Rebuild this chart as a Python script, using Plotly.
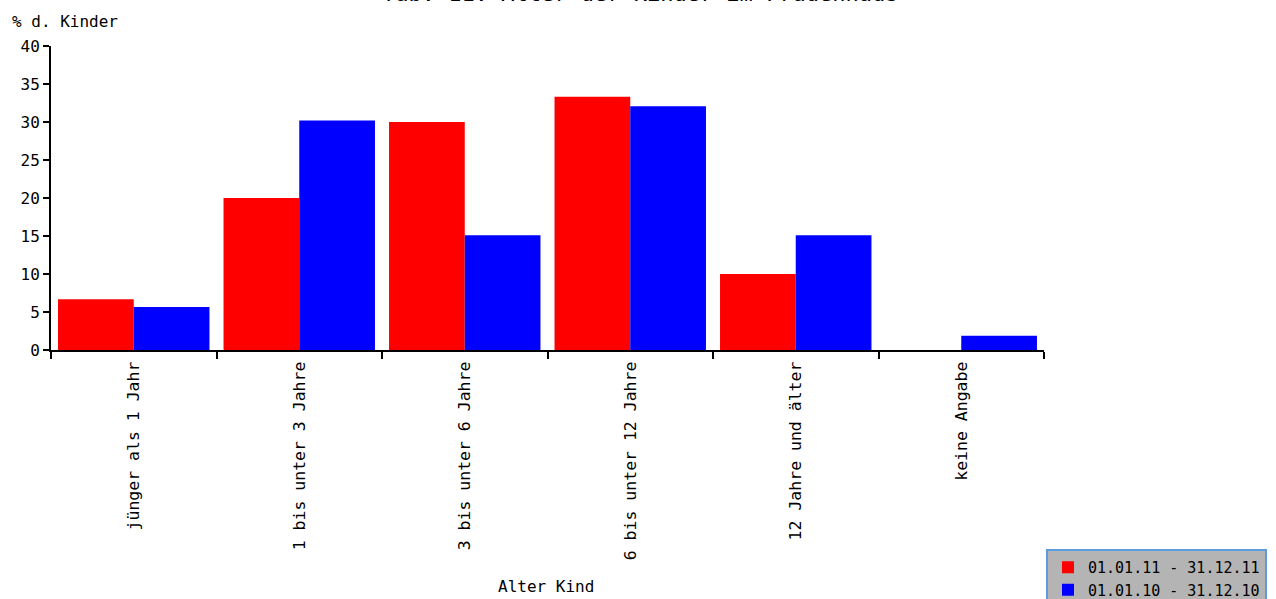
import plotly.graph_objects as go

categories = ["jünger als 1 Jahr", "1 bis unter 3 Jahre", "3 bis unter 6 Jahre",
              "6 bis unter 12 Jahre", "12 Jahre und älter", "keine Angabe"]
series_2011 = [6.67, 20.0, 30.0, 33.33, 10.0, 0.0]
series_2010 = [5.66, 30.19, 15.09, 32.08, 15.09, 1.89]
name_2011 = "01.01.11 - 31.12.11"
name_2010 = "01.01.10 - 31.12.10"
y_ticks = [0, 5, 10, 15, 20, 25, 30, 35, 40]
title_text = "Tab. 11: Alter der Kinder im Frauenhaus"

FONT = "DejaVu Sans Mono"

fig = go.Figure()
fig.add_trace(go.Bar(x=categories, y=series_2011, name=name_2011,
                     marker=dict(color="#ff0000", line=dict(width=0))))
fig.add_trace(go.Bar(x=categories, y=series_2010, name=name_2010,
                     marker=dict(color="#0000ff", line=dict(width=0))))

fig.update_layout(
    width=1276, height=599,
    margin=dict(l=51, r=232, t=46, b=249, pad=0, autoexpand=False),
    paper_bgcolor="white", plot_bgcolor="white",
    barmode="group", bargap=0.085, bargroupgap=0,
    font=dict(family=FONT, size=16, color="black"),
    showlegend=True,
    legend=dict(x=(1046 - 51) / 993, xanchor="left", y=(350 - 549) / 304, yanchor="top",
                bgcolor="#b4b4b4", bordercolor="#5b9be0", borderwidth=2,
                font=dict(family=FONT, size=15, color="black"),
                itemwidth=30, tracegroupgap=0),
    xaxis=dict(type="category", showline=True, linecolor="black", linewidth=2,
               ticks="outside", tickson="boundaries", ticklen=7, tickwidth=2,
               tickcolor="black", tickangle=-90, showgrid=False, zeroline=False,
               automargin=False, ticklabelstandoff=3,
               tickfont=dict(family=FONT, size=16.5)),
    yaxis=dict(range=[0, 40], tickvals=y_ticks, showline=True, linecolor="black",
               linewidth=2, ticks="outside", ticklen=6, tickwidth=2,
               tickcolor="black", showgrid=False, zeroline=False,
               automargin=False, tickfont=dict(family=FONT, size=16)),
    annotations=[
        dict(text="% d. Kinder", xref="paper", yref="paper", x=(10 - 51) / 993,
             y=(350 - 22) / 304, xanchor="left", yanchor="middle", showarrow=False,
             font=dict(family=FONT, size=16)),
        dict(text="Alter Kind", xref="paper", yref="paper", x=(546 - 51) / 993,
             y=(350 - 586) / 304, xanchor="center", yanchor="middle", showarrow=False,
             font=dict(family=FONT, size=16)),
        dict(text=title_text, xref="paper", yref="paper", x=(640 - 51) / 993,
             y=(350 + 6.5) / 304, xanchor="center", yanchor="middle", showarrow=False,
             font=dict(family=FONT, size=22)),
    ],
)

fig.write_html("out.html", config={"displayModeBar": False},
               post_script="document.body.style.margin='0px';document.body.style.overflow='hidden';")
